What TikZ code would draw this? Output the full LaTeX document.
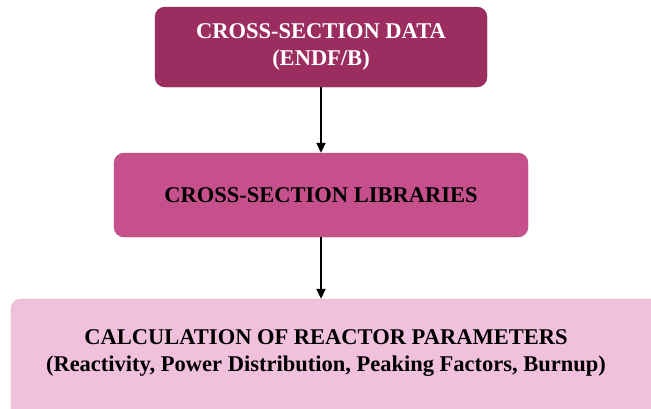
\documentclass[tikz,border=0pt]{standalone}
\usepackage{fontspec}
\setmainfont{Liberation Serif}
\usepackage{tikz}
\usetikzlibrary{arrows.meta}

\definecolor{datacol}{HTML}{9C2D60}
\definecolor{libcol}{HTML}{C5508C}
\definecolor{calccol}{HTML}{F0C0DC}

\tikzset{
  stepbox/.style={rounded corners=10pt, inner sep=0pt, align=center,
    font=\fontsize{22.5}{27}\selectfont\bfseries},
  flow/.style={-{Triangle[length=10pt,width=9pt]}, line width=1.8pt, black}
}

\begin{document}
\begin{tikzpicture}[x=1pt,y=1pt]
  \clip (0,0) rectangle (651,-408);
  \node[stepbox, fill=datacol, draw=datacol!85!black, text=white,
    minimum width=332pt, minimum height=80pt] (data) at (321,-47)
    {CROSS-SECTION DATA\\(ENDF/B)};
  \node[stepbox, fill=libcol, draw=libcol!90!black,
    minimum width=414pt, minimum height=84pt] (lib) at (321,-195)
    {CROSS-SECTION LIBRARIES};
  \node[stepbox, fill=calccol, draw=calccol!90!black,
    minimum width=660pt, minimum height=140pt] (calc) at (341,-369) {};
  \node[stepbox] (calctext) at (326,-353)
    {CALCULATION OF REACTOR PARAMETERS\\(Reactivity, Power Distribution, Peaking Factors, Burnup)};

  \draw[flow] (data.south) -- (lib.north);
  \draw[flow] (lib.south) -- (lib.south |- calc.north);
\end{tikzpicture}
\end{document}
